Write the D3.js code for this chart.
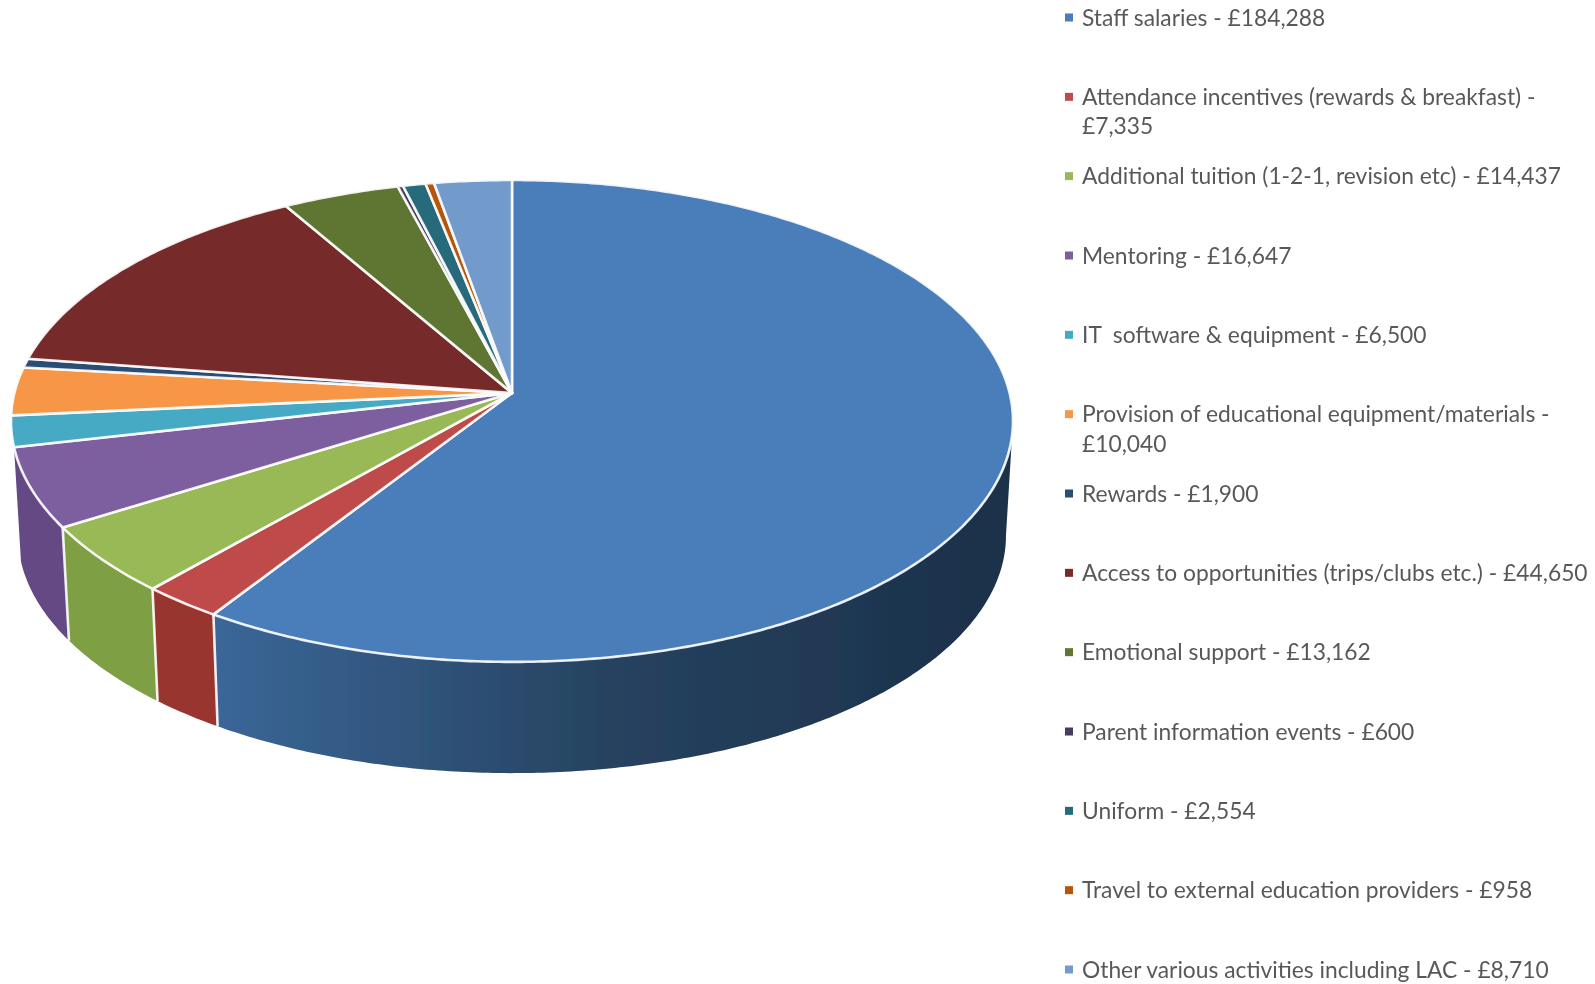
<!DOCTYPE html>
<html>
<head>
<meta charset="utf-8">
<title>Pupil premium spending</title>
<script src="https://cdn.jsdelivr.net/npm/d3@7"></script>
<style>
  html, body { margin: 0; padding: 0; background: #fff; }
  svg { display: block; }
  text { font-family: Lato, "Open Sans", sans-serif; font-size: 22.8px; fill: #595959; white-space: pre; }
</style>
</head>
<body>
<div id="chart"></div>
<script>
// Legend labels, wrapped flags mark the two that run onto a second line
const categories = [
    'Staff salaries',
    'Attendance incentives (rewards & breakfast)',
    'Additional tuition (1-2-1, revision etc)',
    'Mentoring',
    'IT  software & equipment',
    'Provision of educational equipment/materials',
    'Rewards',
    'Access to opportunities (trips/clubs etc.)',
    'Emotional support',
    'Parent information events',
    'Uniform',
    'Travel to external education providers',
    'Other various activities including LAC'
];
const amounts = [184288, 7335, 14437, 16647, 6500, 10040, 1900, 44650, 13162, 600, 2554, 958, 8710];
const wrapped = [false, true, false, false, false, true, false, false, false, false, false, false, false];
const topColors = ['#4a7ebb', '#be4b48', '#98b954', '#7d5fa0', '#46aac5', '#f79646', '#2c4d75',
    '#772c2a', '#5f7530', '#463a5e', '#276a7c', '#b65708', '#729aca'];
const wallColors = ['#386393', '#98352f', '#7f9f45', '#654a85'];

const width = 1595, height = 984;

const svg = d3.select('#chart').append('svg')
    .attr('width', width)
    .attr('height', height);

const defs = svg.append('defs');
defs.append('filter').attr('id', 'soft')
    .append('feGaussianBlur').attr('stdDeviation', 0.6);

// The blue wall goes dark towards the right
const blueWall = defs.append('linearGradient')
    .attr('id', 'blueWall')
    .attr('gradientUnits', 'userSpaceOnUse')
    .attr('x1', 219).attr('x2', 1008).attr('y1', 0).attr('y2', 0);
blueWall.append('stop').attr('offset', 0).attr('stop-color', '#3a6697');
blueWall.append('stop').attr('offset', 0.5).attr('stop-color', '#26425f');
blueWall.append('stop').attr('offset', 1).attr('stop-color', '#1b304a');

// Perspective of the pie: the near edge is drawn larger than the far edge
const tilt = 0.116;
const xScale = d3.scaleLinear().domain([-1, 1]).range([512 - 497.6, 512 + 497.6]);
const yScale = d3.scaleLinear().domain([-1, 1]).range([393 - 237.7, 393 + 237.7]);
const baseScale = 0.986;
const baseX = d3.scaleLinear().domain([-1, 1]).range([512 - 497.6 * baseScale, 512 + 497.6 * baseScale]);
const baseY = d3.scaleLinear().domain([-1, 1]).range([508 - 237.7 * baseScale, 508 + 237.7 * baseScale]);

function project(angle, r, sx, sy) {
    const u = Math.sin(angle) * r;
    const v = -Math.cos(angle) * r;
    const w = 1 - tilt * v;
    return [sx(u / w), sy(v / w)];
}

const arcs = d3.pie().sort(null).startAngle(0).endAngle(2 * Math.PI)(amounts);
const line = d3.line();

function sampleAngles(from, to) {
    const steps = Math.max(2, Math.ceil((to - from) / 0.01));
    return d3.range(steps + 1).map(i => from + (to - from) * i / steps);
}

const pie = svg.append('g').attr('filter', 'url(#soft)');

// Right silhouette of the rim, the wall starts here
const wallStart = 0.537 * Math.PI;

// Only the first four slices show a wall
pie.selectAll('path.wall')
    .data(arcs.slice(0, wallColors.length))
    .enter()
    .append('path')
    .attr('class', 'wall')
    .attr('d', d => {
        const angles = sampleAngles(Math.max(d.startAngle, wallStart), d.endAngle);
        const upper = angles.map(a => project(a, 1, xScale, yScale));
        const lower = angles.slice().reverse().map(a => project(a, 1, baseX, baseY));
        return line(upper.concat(lower)) + 'Z';
    })
    .attr('fill', (d, i) => i === 0 ? 'url(#blueWall)' : wallColors[i]);

// White seams between the walls
pie.selectAll('line.seam')
    .data(arcs.slice(0, wallColors.length - 1))
    .enter()
    .append('line')
    .attr('class', 'seam')
    .attr('x1', d => project(d.endAngle, 1, xScale, yScale)[0])
    .attr('y1', d => project(d.endAngle, 1, xScale, yScale)[1])
    .attr('x2', d => project(d.endAngle, 1, baseX, baseY)[0])
    .attr('y2', d => project(d.endAngle, 1, baseX, baseY)[1])
    .attr('stroke', '#fff')
    .attr('stroke-opacity', 0.9)
    .attr('stroke-width', 2.6);

pie.selectAll('path.top')
    .data(arcs)
    .enter()
    .append('path')
    .attr('class', 'top')
    .attr('d', d => {
        const rim = sampleAngles(d.startAngle, d.endAngle).map(a => project(a, 1, xScale, yScale));
        return line([project(0, 0, xScale, yScale)].concat(rim)) + 'Z';
    })
    .attr('fill', (d, i) => topColors[i])
    .attr('stroke', '#fff')
    .attr('stroke-opacity', 0.9)
    .attr('stroke-width', 2.6)
    .attr('stroke-linejoin', 'round');

// Legend down the right side
const legendY = d3.scalePoint()
    .domain(d3.range(categories.length))
    .range([17.5, 969.5]);
const money = d3.format(',');

const legend = svg.append('g').attr('filter', 'url(#soft)');

const rows = legend.selectAll('g')
    .data(categories)
    .enter()
    .append('g')
    .attr('transform', (d, i) => `translate(1065,${legendY(i)})`);

rows.append('rect')
    .attr('x', 0).attr('y', -4)
    .attr('width', 8).attr('height', 8)
    .attr('fill', (d, i) => topColors[i]);

rows.append('text')
    .attr('x', 17)
    .attr('y', 8)
    .text((d, i) => wrapped[i] ? `${d} -` : `${d} - £${money(amounts[i])}`);

rows.filter((d, i) => wrapped[i])
    .append('text')
    .attr('x', 17)
    .attr('y', 37.5)
    .text(d => `£${money(amounts[categories.indexOf(d)])}`);
</script>
</body>
</html>
